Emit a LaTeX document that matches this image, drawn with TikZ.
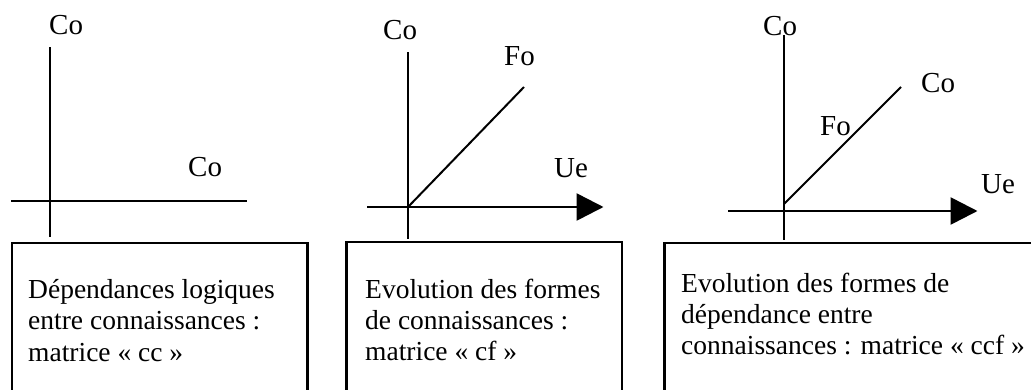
\documentclass[tikz,border=0pt]{standalone}
\usepackage{fontspec}
\setmainfont{Liberation Serif}
\usetikzlibrary{arrows.meta}
\begin{document}
\begin{tikzpicture}[x=1pt,y=-1pt,
  axis/.style={line width=2.6pt},
  arrowaxis/.style={line width=2.6pt,-{Triangle[length=27pt,width=27pt]}},
  diag/.style={line width=2pt},
  lbl/.style={inner sep=0pt,anchor=base west,font=\fontsize{29}{32}\selectfont},
  boxline/.style={draw,line width=2.6pt,inner sep=0pt,anchor=north west},
  btext/.style={inner sep=0pt,anchor=base west,font=\fontsize{27.5}{32}\selectfont}]
\useasboundingbox (0,0) rectangle (1031,389);
\clip (0,0) rectangle (1031,389);
% ---------- panel 1
\coordinate (v1t) at (50,47);
\coordinate (v1b) at (50,237);
\coordinate (h1l) at (11,201);
\coordinate (h1r) at (247,201);
\draw[axis] (v1t) -- (v1b);
\draw[axis] (h1l) -- (h1r);
\node[lbl] (c1a) at (49,34) {Co};
\node[lbl] (c1b) at (188,176) {Co};
\node[boxline,minimum width=295.5pt,minimum height=200pt] (box1) at (10.5,241.5) {};
\node[btext] (t1a) at (28,298) {Dépendances logiques};
\node[btext] (t1b) at (28,329.5) {entre connaissances :};
\node[btext] (t1c) at (28,361) {matrice « cc »};
% ---------- panel 2
\coordinate (v2t) at (408,52);
\coordinate (v2b) at (408,239);
\coordinate (h2l) at (367,207);
\coordinate (h2r) at (603.5,207);
\coordinate (o2) at (408,207);
\coordinate (d2) at (524,87);
\draw[axis] (v2t) -- (v2b);
\draw[arrowaxis] (h2l) -- (h2r);
\draw[diag] (o2) -- (d2);
\node[lbl] (c2a) at (383,39.5) {Co};
\node[lbl] (f2) at (504,65) {Fo};
\node[lbl] (u2) at (554,177) {Ue};
\node[boxline,minimum width=275.5pt,minimum height=200pt] (box2) at (345,240.5) {};
\node[btext] (t2a) at (365,298) {Evolution des formes};
\node[btext] (t2b) at (365,329) {de connaissances :};
\node[btext] (t2c) at (365,360.5) {matrice « cf »};
% ---------- panel 3
\coordinate (v3t) at (784,35);
\coordinate (v3b) at (784,240);
\coordinate (h3l) at (728,211);
\coordinate (h3r) at (977.5,211);
\coordinate (o3) at (784,204);
\coordinate (d3) at (901,87);
\draw[axis] (v3t) -- (v3b);
\draw[arrowaxis] (h3l) -- (h3r);
\draw[diag] (o3) -- (d3);
\node[lbl] (c3a) at (763,35) {Co};
\node[lbl] (c3b) at (921,92) {Co};
\node[lbl] (f3) at (820,135) {Fo};
\node[lbl] (u3) at (981,193) {Ue};
\node[boxline,minimum width=450pt,minimum height=200pt] (box3) at (663,241.5) {};
\node[btext] (t3a) at (681,292) {Evolution des formes de};
\node[btext] (t3b) at (681,323) {dépendance entre};
\node[btext] (t3c) at (681,354.5) {connaissances : matrice « ccf »};
\end{tikzpicture}
\end{document}
